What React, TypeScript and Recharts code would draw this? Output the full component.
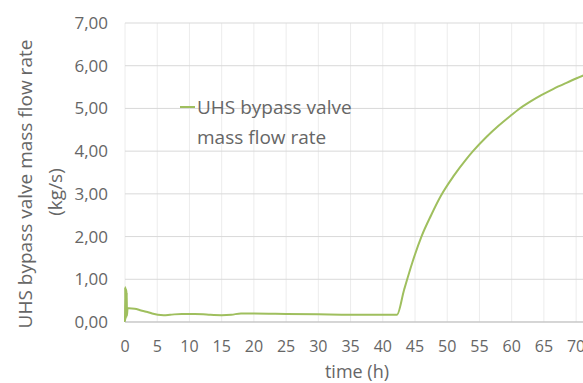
import { LineChart, Line, XAxis, YAxis, CartesianGrid, Label } from 'recharts';

const timeH = [0, 0.03, 0.06, 0.09, 0.12, 0.15, 0.18, 0.21, 0.24, 0.27, 0.3, 0.4, 0.6, 1.5, 2.5, 3.3, 4.2, 5.1, 6, 7, 8.8, 10.8, 13, 15, 16.5, 18, 20, 25, 30, 35, 40, 42.2, 43.3, 44.6, 46, 47.5, 49, 51, 53, 54, 56, 58, 60, 61, 63, 64.6, 66.5, 68.5, 70, 71.3, 72];
const flow = [0, 0.82, 0.05, 0.8, 0.08, 0.78, 0.1, 0.75, 0.12, 0.7, 0.15, 0.32, 0.32, 0.31, 0.27, 0.24, 0.2, 0.17, 0.16, 0.17, 0.19, 0.19, 0.17, 0.16, 0.17, 0.2, 0.2, 0.19, 0.18, 0.17, 0.17, 0.17, 0.75, 1.4, 2.0, 2.5, 2.95, 3.42, 3.82, 4.0, 4.32, 4.6, 4.85, 4.97, 5.17, 5.31, 5.46, 5.6, 5.7, 5.78, 5.82];
const xTicks = [0, 5, 10, 15, 20, 25, 30, 35, 40, 45, 50, 55, 60, 65, 70];
const yTicks = [0, 1, 2, 3, 4, 5, 6, 7];
const seriesName = ['UHS bypass valve', 'mass flow rate'];
const yTitle = ['UHS bypass valve mass flow rate', '(kg/s)'];
const xTitle = 'time (h)';

const data = timeH.map((t, i) => ({ t, v: flow[i] }));
const font = '"Open Sans", sans-serif';
const textColor = '#666666';
const green = '#9fbf5e';

const fmt = (v: number) => v.toFixed(2).replace('.', ',');

export default function App() {
  return (
    <div style={{ position: 'fixed', left: 0, top: 0, width: 583, height: 383, overflow: 'hidden', background: '#fff' }}>
      <LineChart width={600} height={383} data={data} margin={{ top: 23, right: 11, bottom: 11, left: 0 }}>
        <CartesianGrid horizontal={false} stroke="#ececec" />
        <CartesianGrid vertical={false} stroke="#d9d9d9" />
        <XAxis
          dataKey="t"
          type="number"
          domain={[0, 72]}
          ticks={xTicks}
          height={50}
          tickLine={false}
          tickSize={8}
          tickMargin={11}
          stroke="#bfbfbf"
          tick={{ fill: textColor, fontSize: 16, fontFamily: font }}
        >
          <Label
            content={() => (
              <text x={357} y={378} textAnchor="middle" fill={textColor} fontSize={18} fontFamily={font}>
                {xTitle}
              </text>
            )}
          />
        </XAxis>
        <YAxis
          domain={[0, 7]}
          ticks={yTicks}
          width={125}
          axisLine={false}
          tickLine={false}
          tickSize={8}
          tickMargin={9}
          tickFormatter={fmt}
          tick={{ fill: textColor, fontSize: 17, fontFamily: font }}
        >
          <Label
            content={() => (
              <g fill={textColor} fontSize={19} fontFamily={font} textAnchor="middle">
                <text transform="translate(32,184) rotate(-90)">{yTitle[0]}</text>
                <text transform="translate(62,192) rotate(-90)">{yTitle[1]}</text>
              </g>
            )}
          />
        </YAxis>
        <Line
          type="monotone"
          dataKey="v"
          stroke={green}
          strokeWidth={2}
          dot={false}
          isAnimationActive={false}
        />
      </LineChart>
      <div style={{ position: 'absolute', left: 180, top: 92, display: 'flex', fontFamily: font, fontSize: 19, color: textColor, lineHeight: '30px' }}>
        <div style={{ width: 15, height: 2, background: green, marginTop: 14, marginRight: 2 }} />
        <div>
          {seriesName.map((s) => (
            <div key={s}>{s}</div>
          ))}
        </div>
      </div>
    </div>
  );
}
